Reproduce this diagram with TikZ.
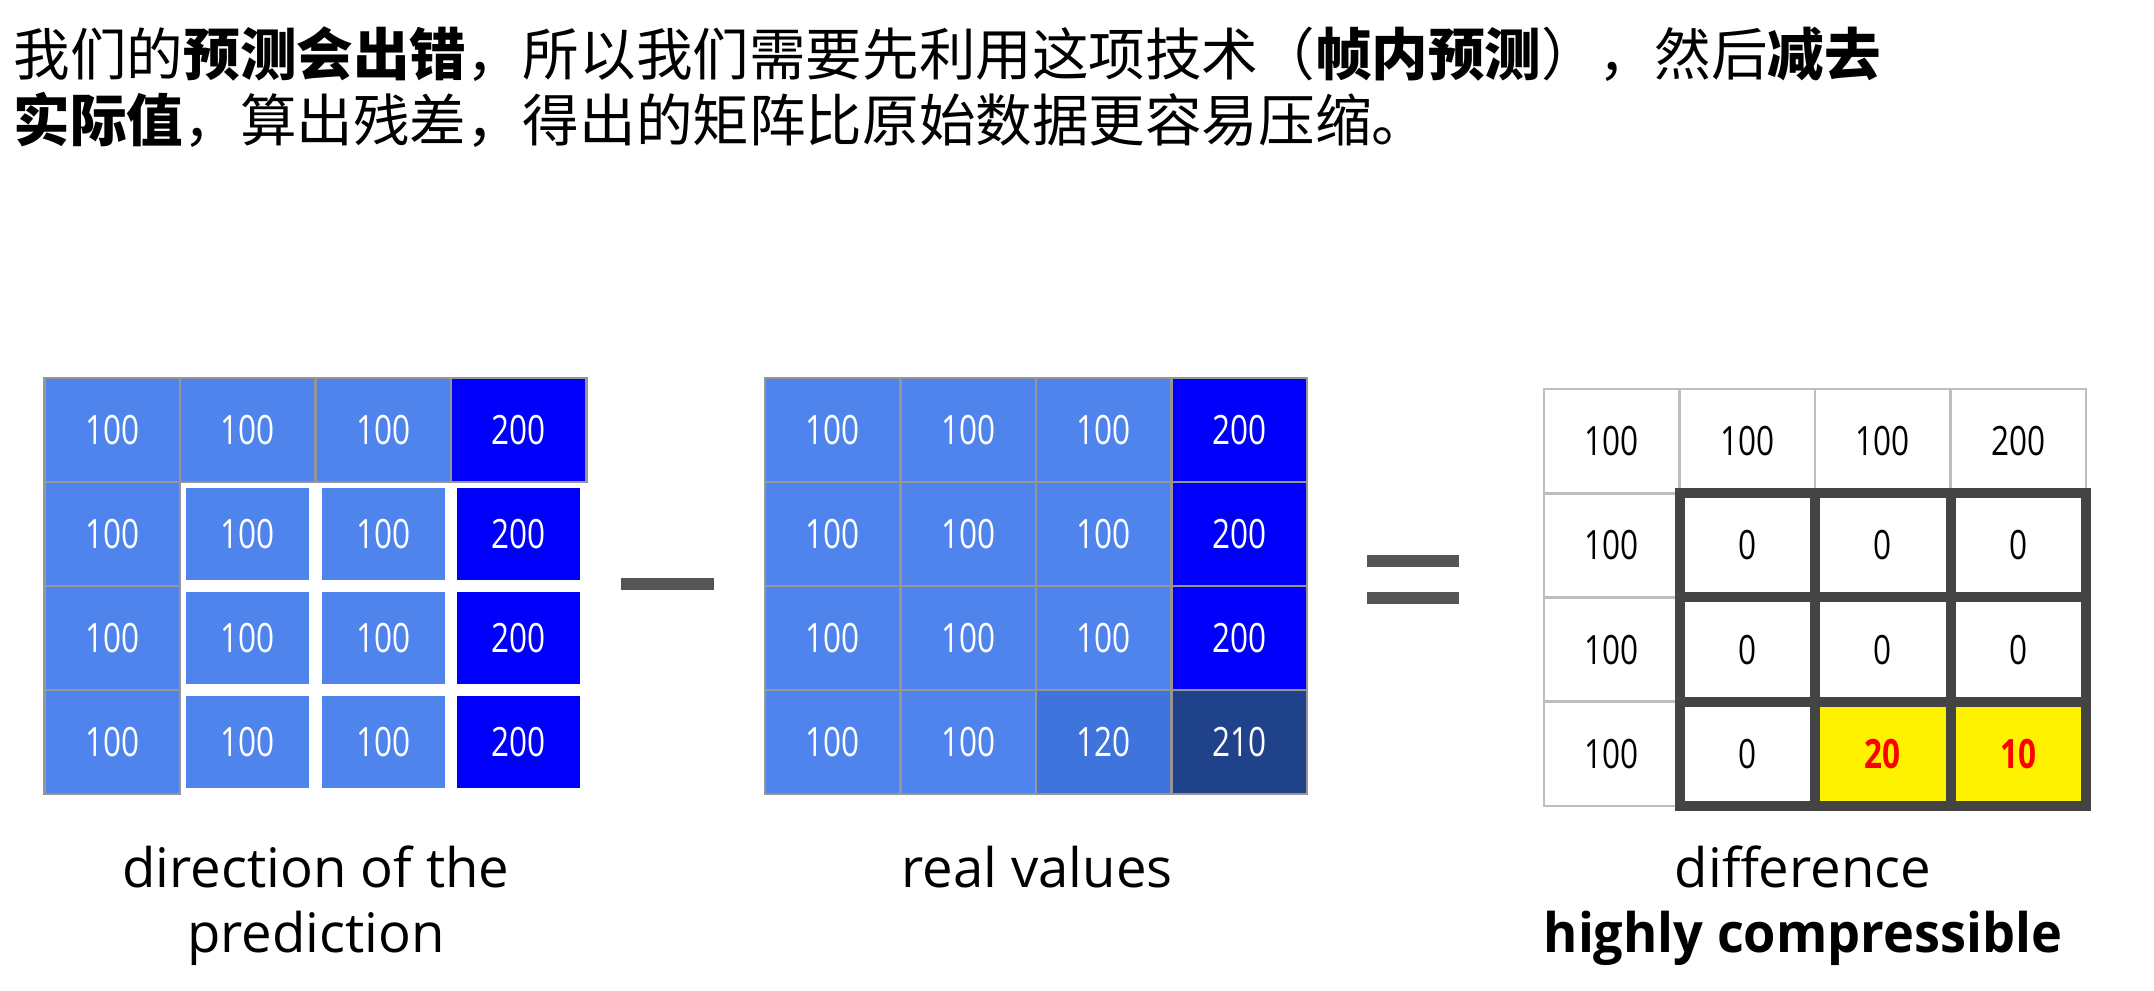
\documentclass[tikz,border=0pt]{standalone}
\usepackage{fontspec}
\usetikzlibrary{positioning}
\newfontfamily\cjk{Noto Sans CJK SC}
\newfontfamily\numfont[FakeStretch=0.78]{Open Sans}
\newfontfamily\labfont{Open Sans}
\newfontfamily\boldlabfont[FakeStretch=0.96]{Open Sans Bold}
\definecolor{cellblue}{RGB}{79,132,236}
\definecolor{deepblue}{RGB}{0,0,250}
\definecolor{midblue}{RGB}{63,116,220}
\definecolor{navyblue}{RGB}{31,66,138}
\definecolor{gridgray}{RGB}{150,150,150}
\definecolor{lightgrid}{RGB}{190,190,190}
\definecolor{framegray}{RGB}{68,68,68}
\definecolor{signgray}{RGB}{85,85,85}
\tikzset{
  cellbox/.style={inner sep=0pt,outer sep=0pt,text=white,
    font=\numfont\fontsize{11.5}{13}\selectfont},
  predcell/.style={cellbox,draw=gridgray,line width=0.6pt,
    minimum width=1.355cm,minimum height=1.04cm},
  insetcell/.style={cellbox,minimum width=1.23cm,minimum height=0.92cm},
  realcell/.style={cellbox,draw=gridgray,line width=0.6pt,
    minimum width=1.355cm,minimum height=1.04cm},
  diffcell/.style={cellbox,draw=lightgrid,line width=0.8pt,fill=white,text=black,
    minimum width=1.355cm,minimum height=1.0425cm},
  hotcell/.style={fill=yellow,text=red,font=\numfont\fontsize{11.5}{13}\selectfont\bfseries},
  thickframe/.style={draw=framegray,line width=0.1cm,line cap=rect},
  titletext/.style={anchor=base west,inner sep=0pt,
    font=\cjk\fontsize{16.1}{18}\selectfont},
  labeltext/.style={anchor=base,inner sep=0pt,
    font=\labfont\fontsize{15.5}{18}\selectfont}
}
\begin{document}
\begin{tikzpicture}
\useasboundingbox (0,0) rectangle (21.54,9.90);
% title
\node[titletext] (title1) at (0.13,9.14) {我们的\textbf{预测会出错}，所以我们需要先利用这项技术（\textbf{帧内预测}），然后\textbf{减去}};
\node[titletext] (title2) at (0.13,8.48) {\textbf{实际值}，算出残差，得出的矩阵比原始数据更容易压缩。};
% prediction grid
\foreach \c/\v/\col in {1/100/cellblue,2/100/cellblue,3/100/cellblue,4/200/deepblue}
  \node[predcell,fill=\col] (p-1-\c) at ({0.445+1.355*(\c-0.5)},{6.12-0.52}) {\v};
\foreach \r in {2,3,4} {
  \node[predcell,fill=cellblue] (p-\r-1) at ({0.445+1.355*0.5},{6.12-1.04*(\r-0.5)}) {100};
  \foreach \c/\v/\col in {2/100/cellblue,3/100/cellblue,4/200/deepblue}
    \node[insetcell,fill=\col] (p-\r-\c) at ({0.445+1.355*(\c-0.5)},{6.12-1.04*(\r-0.5)}) {\v};
}
% minus
\fill[signgray] (6.21,4.12) rectangle (7.14,4.00);
% real values grid
\foreach \r in {1,2,3} {
  \foreach \c/\v/\col in {1/100/cellblue,2/100/cellblue,3/100/cellblue,4/200/deepblue}
    \node[realcell,fill=\col] (v-\r-\c) at ({7.65+1.355*(\c-0.5)},{6.12-1.04*(\r-0.5)}) {\v};
}
\foreach \c/\v/\col in {1/100/cellblue,2/100/cellblue,3/120/midblue,4/210/navyblue}
  \node[realcell,fill=\col] (v-4-\c) at ({7.65+1.355*(\c-0.5)},{6.12-1.04*3.5}) {\v};
% equals
\fill[signgray] (13.67,4.35) rectangle (14.59,4.23);
\fill[signgray] (13.67,3.98) rectangle (14.59,3.86);
% difference grid
\foreach \c/\v in {1/100,2/100,3/100,4/200}
  \node[diffcell] (d-1-\c) at ({15.44+1.355*(\c-0.5)},{6.01-1.0425*0.5}) {\v};
\foreach \r in {2,3,4}
  \node[diffcell] (d-\r-1) at ({15.44+1.355*0.5},{6.01-1.0425*(\r-0.5)}) {100};
\foreach \r/\c in {2/2,2/3,2/4,3/2,3/3,3/4,4/2}
  \node[diffcell] (d-\r-\c) at ({15.44+1.355*(\c-0.5)},{6.01-1.0425*(\r-0.5)}) {0};
\foreach \c/\v in {3/20,4/10}
  \node[diffcell,hotcell] (d-4-\c) at ({15.44+1.355*(\c-0.5)},{6.01-1.0425*3.5}) {\v};
\draw[thickframe] (d-2-2.north west) rectangle (d-4-4.south east);
\foreach \c in {3,4} \draw[thickframe] (d-2-\c.north west) -- (d-4-\c.south west);
\foreach \r in {3,4} \draw[thickframe] (d-\r-2.north west) -- (d-\r-4.north east);
% captions
\node[labeltext] (cap-pred-a) at (3.16,1.03) {direction of the};
\node[labeltext] (cap-pred-b) at (3.16,0.38) {prediction};
\node[labeltext] (cap-real) at (10.37,1.03) {real values};
\node[labeltext] (cap-diff-a) at (18.03,1.03) {difference};
\node[labeltext,font=\boldlabfont\fontsize{15.5}{18}\selectfont] (cap-diff-b) at (18.03,0.38) {highly compressible};
\end{tikzpicture}
\end{document}
